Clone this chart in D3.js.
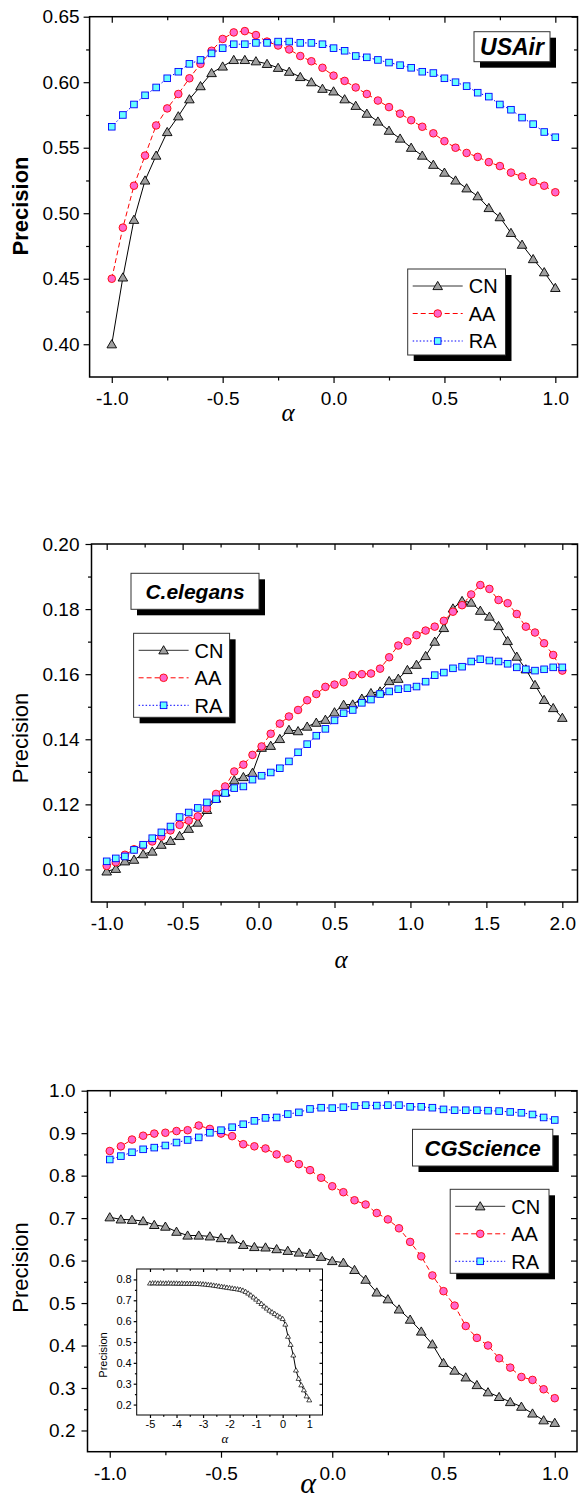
<!DOCTYPE html>
<html><head><meta charset="utf-8">
<script src="https://cdn.jsdelivr.net/npm/d3@7"></script>
<style>body{margin:0;background:#fff}svg{display:block}</style>
</head><body><svg id="c" width="580" height="1498"></svg>
<script>
// ---------------- DATA ----------------
const seriesNames = ["CN", "AA", "RA"];

// Panel 1: USAir
const alphaUSAir = [-1.00,-0.95,-0.90,-0.85,-0.80,-0.75,-0.70,-0.65,-0.60,-0.55,-0.50,-0.45,-0.40,-0.35,-0.30,-0.25,-0.20,-0.15,-0.10,-0.05,0.00,0.05,0.10,0.15,0.20,0.25,0.30,0.35,0.40,0.45,0.50,0.55,0.60,0.65,0.70,0.75,0.80,0.85,0.90,0.95,1.00];
const usairCN = [0.400,0.451,0.495,0.525,0.544,0.562,0.574,0.587,0.597,0.607,0.612,0.617,0.617,0.616,0.614,0.611,0.608,0.604,0.600,0.595,0.593,0.587,0.582,0.576,0.570,0.563,0.557,0.550,0.544,0.537,0.531,0.525,0.519,0.513,0.504,0.497,0.485,0.476,0.465,0.455,0.443];
const usairAA = [0.450,0.489,0.521,0.544,0.567,0.580,0.591,0.603,0.614,0.624,0.633,0.638,0.639,0.636,0.631,0.628,0.625,0.620,0.616,0.611,0.605,0.601,0.596,0.591,0.586,0.581,0.576,0.571,0.566,0.561,0.555,0.550,0.546,0.543,0.539,0.536,0.531,0.528,0.524,0.521,0.516];
const usairRA = [0.566,0.575,0.583,0.590,0.596,0.603,0.608,0.614,0.617,0.622,0.626,0.629,0.629,0.630,0.630,0.631,0.631,0.630,0.630,0.629,0.626,0.624,0.620,0.619,0.617,0.615,0.613,0.611,0.608,0.607,0.603,0.600,0.597,0.592,0.589,0.583,0.579,0.573,0.568,0.562,0.558];
const usairYTicks = [0.40,0.45,0.50,0.55,0.60,0.65];
const usairXTicks = [-1.0,-0.5,0.0,0.5,1.0];

// Panel 2: C.elegans
const alphaCeleg = [-1.00,-0.94,-0.88,-0.82,-0.76,-0.70,-0.64,-0.58,-0.52,-0.46,-0.40,-0.34,-0.28,-0.22,-0.16,-0.10,-0.04,0.02,0.08,0.14,0.20,0.26,0.32,0.38,0.44,0.50,0.56,0.62,0.68,0.74,0.80,0.86,0.92,0.98,1.04,1.10,1.16,1.22,1.28,1.34,1.40,1.46,1.52,1.58,1.64,1.70,1.76,1.82,1.88,1.94,2.00];
const celegCN = [0.0994,0.1002,0.1025,0.1030,0.1047,0.1055,0.1076,0.1088,0.1103,0.1125,0.1144,0.1183,0.1218,0.1237,0.1274,0.1284,0.1297,0.1374,0.1380,0.1401,0.1429,0.1425,0.1439,0.1451,0.1460,0.1483,0.1506,0.1507,0.1525,0.1542,0.1547,0.1579,0.1586,0.1613,0.1629,0.1656,0.1700,0.1742,0.1802,0.1825,0.1820,0.1795,0.1777,0.1748,0.1702,0.1654,0.1615,0.1567,0.1521,0.1496,0.1466];
const celegAA = [0.1011,0.1022,0.1045,0.1062,0.1073,0.1086,0.1101,0.1120,0.1137,0.1150,0.1163,0.1188,0.1232,0.1255,0.1301,0.1322,0.1352,0.1378,0.1417,0.1448,0.1470,0.1490,0.1520,0.1539,0.1561,0.1568,0.1575,0.1597,0.1600,0.1602,0.1617,0.1652,0.1688,0.1701,0.1720,0.1734,0.1746,0.1764,0.1792,0.1812,0.1845,0.1874,0.1862,0.1828,0.1818,0.1785,0.1746,0.1728,0.1695,0.1659,0.1611];
const celegRA = [0.1025,0.1034,0.1040,0.1060,0.1076,0.1096,0.1114,0.1132,0.1161,0.1175,0.1189,0.1206,0.1216,0.1235,0.1250,0.1255,0.1276,0.1288,0.1298,0.1311,0.1332,0.1360,0.1385,0.1411,0.1432,0.1458,0.1480,0.1490,0.1512,0.1522,0.1539,0.1547,0.1554,0.1557,0.1562,0.1577,0.1597,0.1605,0.1618,0.1623,0.1639,0.1646,0.1642,0.1639,0.1632,0.1621,0.1615,0.1611,0.1615,0.1621,0.1621];
const celegYTicks = [0.10,0.12,0.14,0.16,0.18,0.20];
const celegXTicks = [-1.0,-0.5,0.0,0.5,1.0,1.5,2.0];

// Panel 3: CGScience
const alphaCG = alphaUSAir;
const cgCN = [0.702,0.697,0.696,0.693,0.684,0.680,0.668,0.659,0.659,0.657,0.653,0.650,0.637,0.632,0.631,0.627,0.623,0.619,0.616,0.609,0.599,0.595,0.578,0.555,0.525,0.509,0.485,0.461,0.433,0.403,0.359,0.341,0.325,0.307,0.290,0.279,0.267,0.256,0.240,0.224,0.218];
const cgAA = [0.858,0.869,0.885,0.894,0.899,0.901,0.905,0.907,0.918,0.910,0.899,0.893,0.874,0.869,0.864,0.850,0.840,0.827,0.813,0.795,0.775,0.761,0.742,0.732,0.712,0.697,0.676,0.644,0.610,0.565,0.528,0.494,0.446,0.418,0.400,0.370,0.348,0.326,0.319,0.297,0.276];
const cgRA = [0.838,0.846,0.855,0.862,0.866,0.871,0.878,0.884,0.890,0.901,0.907,0.914,0.921,0.929,0.936,0.937,0.945,0.949,0.957,0.960,0.959,0.961,0.964,0.966,0.965,0.966,0.966,0.962,0.962,0.960,0.956,0.954,0.954,0.954,0.953,0.952,0.950,0.948,0.944,0.937,0.931];
const cgYTicks = [0.2,0.3,0.4,0.5,0.6,0.7,0.8,0.9,1.0];
const cgXTicks = [-1.0,-0.5,0.0,0.5,1.0];

// Inset: CN on CGScience for wide alpha range
const insetAlpha = [-5.0,-4.9,-4.8,-4.7,-4.6,-4.5,-4.4,-4.3,-4.2,-4.1,-4.0,-3.9,-3.8,-3.7,-3.6,-3.5,-3.4,-3.3,-3.2,-3.1,-3.0,-2.9,-2.8,-2.7,-2.6,-2.5,-2.4,-2.3,-2.2,-2.1,-2.0,-1.9,-1.8,-1.7,-1.6,-1.5,-1.4,-1.3,-1.2,-1.1,-1.0,-0.9,-0.8,-0.7,-0.6,-0.5,-0.4,-0.3,-0.2,-0.1,0.0,0.1,0.2,0.3,0.4,0.5,0.6,0.7,0.8,0.9,1.0];
const insetCN = [0.782,0.783,0.783,0.782,0.783,0.782,0.782,0.783,0.782,0.782,0.782,0.781,0.782,0.781,0.781,0.781,0.781,0.780,0.780,0.779,0.778,0.777,0.775,0.774,0.772,0.770,0.768,0.766,0.764,0.762,0.760,0.758,0.756,0.754,0.752,0.748,0.742,0.734,0.725,0.715,0.705,0.694,0.684,0.672,0.662,0.652,0.644,0.636,0.628,0.620,0.612,0.585,0.527,0.488,0.437,0.365,0.325,0.294,0.270,0.241,0.222];
const insetYTicks = [0.2,0.3,0.4,0.5,0.6,0.7,0.8];
const insetXTicks = [-5,-4,-3,-2,-1,0,1];

// ---------------- DRAWING ----------------
const svg = d3.select('#c');
const SANS = "'Liberation Sans', Arial, Helvetica, sans-serif";
const SERIF = "'Liberation Serif', 'Times New Roman', serif";

const styles = {
  CN: {line:'#000000', dash:null,   fill:'#a0a0a0', stroke:'#000000', shape:'tri',    legLine:'#333'},
  AA: {line:'#ff0000', dash:'5,3',  fill:'#ff66cc', stroke:'#ff0000', shape:'circle', legLine:'#ff0000'},
  RA: {line:'#0000ff', dash:'1.5,2',fill:'#66ffff', stroke:'#0000ff', shape:'square', legLine:'#0000ff'}
};

function drawMarker(sel, st, scale) {
  scale = scale || 1;
  if (st.shape === 'circle') {
    sel.append('circle').attr('r', 3.8*scale);
  } else if (st.shape === 'square') {
    sel.append('rect').attr('x', -3.3*scale).attr('y', -3.3*scale).attr('width', 6.6*scale).attr('height', 6.6*scale);
  } else {
    const a = 4.8*scale, t = 4.6*scale, b = 3.6*scale;
    sel.append('path').attr('d', `M0,${-t}L${a},${b}L${-a},${b}Z`);
  }
  sel.attr('fill', st.fill).attr('stroke', st.stroke).attr('stroke-width', 0.9);
}

function minorBetween(ticks, step, domain) {
  const out = [];
  ticks.forEach(t => {
    [t - step, t + step].forEach(m => {
      if (m > domain[0] + 1e-9 && m < domain[1] - 1e-9 && !out.some(o => Math.abs(o-m) < 1e-9)
          && !ticks.some(tt => Math.abs(tt-m) < 1e-9)) out.push(m);
    });
  });
  return out.sort((a,b)=>a-b);
}

function styleAxis(g, fontSize) {
  g.select('.domain').remove();
  g.selectAll('.tick line').attr('stroke', '#000').attr('stroke-width', 1.2);
  g.selectAll('text').attr('font-family', SANS).attr('font-size', fontSize).attr('fill', '#000');
}

function axes(g, x, y, o) {
  const fs = o.tickFont;
  const xm = minorBetween(o.xTicks, o.xMinorStep, x.domain());
  const ym = minorBetween(o.yTicks, o.yMinorStep, y.domain());
  const L = x.range()[0], R = x.range()[1], B = y.range()[0], T = y.range()[1];
  // bottom (outward, labelled)
  styleAxis(g.append('g').attr('transform', `translate(0,${B})`)
    .call(d3.axisBottom(x).tickValues(o.xTicks).tickSize(o.major).tickPadding(o.xPad).tickFormat(o.xFmt)), fs);
  styleAxis(g.append('g').attr('transform', `translate(0,${B})`)
    .call(d3.axisBottom(x).tickValues(xm).tickSize(o.minor).tickFormat('')), fs);
  // left (outward, labelled)
  styleAxis(g.append('g').attr('transform', `translate(${L},0)`)
    .call(d3.axisLeft(y).tickValues(o.yTicks).tickSize(o.major).tickPadding(o.yPad).tickFormat(o.yFmt)), fs);
  styleAxis(g.append('g').attr('transform', `translate(${L},0)`)
    .call(d3.axisLeft(y).tickValues(ym).tickSize(o.minor).tickFormat('')), fs);
  // top (inward)
  styleAxis(g.append('g').attr('transform', `translate(0,${T})`)
    .call(d3.axisTop(x).tickValues(o.xTicks).tickSize(-o.major).tickFormat('')), fs);
  styleAxis(g.append('g').attr('transform', `translate(0,${T})`)
    .call(d3.axisTop(x).tickValues(xm).tickSize(-o.minor).tickFormat('')), fs);
  // right (inward)
  styleAxis(g.append('g').attr('transform', `translate(${R},0)`)
    .call(d3.axisRight(y).tickValues(o.yTicks).tickSize(-o.major).tickFormat('')), fs);
  styleAxis(g.append('g').attr('transform', `translate(${R},0)`)
    .call(d3.axisRight(y).tickValues(ym).tickSize(-o.minor).tickFormat('')), fs);
  // frame
  g.append('rect').attr('x', L).attr('y', T).attr('width', R-L).attr('height', B-T)
    .attr('fill', 'none').attr('stroke', '#000').attr('stroke-width', o.frameW || 1.5);
}

function shadowBox(g, bx, by, bw, bh) {
  g.append('rect').attr('x', bx+6).attr('y', by+6).attr('width', bw).attr('height', bh).attr('fill', '#000');
  g.append('rect').attr('x', bx).attr('y', by).attr('width', bw).attr('height', bh)
    .attr('fill', '#fff').attr('stroke', '#333').attr('stroke-width', 1);
}

function drawPanel(o) {
  const g = svg.append('g');
  const x = d3.scaleLinear().domain(o.xd).range([o.L, o.R]);
  const y = d3.scaleLinear().domain(o.yd).range([o.B, o.T]);
  const line = d3.line().x(d => x(d[0])).y(d => y(d[1]));

  o.series.forEach((vals, si) => {
    const st = styles[seriesNames[si]];
    const pts = o.xs.map((v, i) => [v, vals[i]]);
    g.append('path').attr('d', line(pts)).attr('fill', 'none')
      .attr('stroke', st.line).attr('stroke-width', 1).attr('stroke-dasharray', st.dash);
    g.append('g').selectAll('g').data(pts).join('g')
      .attr('transform', d => `translate(${x(d[0])},${y(d[1])})`)
      .each(function() { drawMarker(d3.select(this), st); });
  });

  axes(g, x, y, {
    xTicks: o.xTicks, yTicks: o.yTicks, xMinorStep: o.xMinorStep, yMinorStep: o.yMinorStep,
    major: 6, minor: 3.5, xPad: 9, yPad: o.yPad, tickFont: 19,
    xFmt: d => d.toFixed(1), yFmt: d => d.toFixed(o.yDec)
  });

  // y label
  g.append('text').attr('transform', `translate(${o.ylab[0]},${o.ylab[1]}) rotate(-90)`)
    .attr('text-anchor', 'middle').attr('font-family', SANS).attr('font-size', 22)
    .attr('font-weight', o.ylabBold ? 'bold' : 'normal').text('Precision');
  // x label
  g.append('text').attr('x', o.xlab[0]).attr('y', o.xlab[1]).attr('text-anchor', 'middle')
    .attr('font-family', SERIF).attr('font-style', 'italic').attr('font-size', o.xlab[2]).text('α');

  // title box
  const tb = o.title;
  shadowBox(g, tb.x, tb.y, tb.w, tb.h);
  g.append('text').attr('x', tb.x + tb.w/2).attr('y', tb.y + tb.h/2 + tb.fs*0.36)
    .attr('text-anchor', 'middle').attr('font-family', SANS).attr('font-weight', 'bold')
    .attr('font-style', 'italic').attr('font-size', tb.fs).text(tb.text);

  // legend
  const lg = o.legend;
  shadowBox(g, lg.x, lg.y, lg.w, lg.h);
  seriesNames.forEach((nm, i) => {
    const st = styles[nm];
    const ry = lg.y + 17 + i * 27.5;
    g.append('line').attr('x1', lg.x + 5).attr('x2', lg.x + 55).attr('y1', ry).attr('y2', ry)
      .attr('stroke', st.legLine).attr('stroke-width', 1).attr('stroke-dasharray', st.dash);
    const m = g.append('g').attr('transform', `translate(${lg.x + 30},${ry})`);
    drawMarker(m, st);
    g.append('text').attr('x', lg.x + 61).attr('y', ry + 7.2).attr('font-family', SANS)
      .attr('font-size', 20).text(nm);
  });
  return {g, x, y};
}

// Panel 1
drawPanel({
  L: 89.6, R: 577.5, T: 16.7, B: 377, xd: [-1.1, 1.1], yd: [0.375, 0.65],
  xs: alphaUSAir, series: [usairCN, usairAA, usairRA],
  xTicks: usairXTicks, yTicks: usairYTicks, xMinorStep: 0.25, yMinorStep: 0.025, yDec: 2, yPad: 4,
  ylab: [27.5, 206], ylabBold: true, xlab: [288, 421, 25],
  title: {x: 474, y: 31.7, w: 76, h: 30, fs: 23, text: 'USAir'},
  legend: {x: 407.7, y: 269, w: 97.8, h: 86}
});

// Panel 2
drawPanel({
  L: 91.5, R: 577.5, T: 544, B: 902, xd: [-1.1, 2.1], yd: [0.09, 0.20],
  xs: alphaCeleg, series: [celegCN, celegAA, celegRA],
  xTicks: celegXTicks, yTicks: celegYTicks, xMinorStep: 0.25, yMinorStep: 0.01, yDec: 2, yPad: 6,
  ylab: [28, 738], ylabBold: false, xlab: [341, 968, 25],
  title: {x: 131, y: 573.3, w: 128, h: 36, fs: 21, text: 'C.elegans'},
  legend: {x: 133.6, y: 633.3, w: 96, h: 84}
});

// Panel 3
const p3 = drawPanel({
  L: 87.5, R: 577, T: 1090.7, B: 1451.7, xd: [-1.1, 1.1], yd: [0.15, 1.0],
  xs: alphaCG, series: [cgCN, cgAA, cgRA],
  xTicks: cgXTicks, yTicks: cgYTicks, xMinorStep: 0.25, yMinorStep: 0.05, yDec: 1, yPad: 6,
  ylab: [28, 1267.5], ylabBold: false, xlab: [308, 1493, 30],
  title: {x: 412.5, y: 1129.3, w: 140.3, h: 36.7, fs: 22, text: 'CGScience'},
  legend: {x: 450.2, y: 1189.3, w: 98.8, h: 84}
});

// Inset
(function() {
  const g = svg.append('g');
  const x = d3.scaleLinear().domain([-5.5, 1.5]).range([136.7, 322.5]);
  const y = d3.scaleLinear().domain([0.15, 0.85]).range([1415, 1269]);
  g.append('rect').attr('x', 136.7).attr('y', 1269).attr('width', 322.5-136.7).attr('height', 1415-1269).attr('fill', '#fff');
  const pts = insetAlpha.map((v, i) => [v, insetCN[i]]);
  g.append('path').attr('d', d3.line().x(d => x(d[0])).y(d => y(d[1]))(pts))
    .attr('fill', 'none').attr('stroke', '#000').attr('stroke-width', 1);
  g.append('g').selectAll('path').data(pts).join('path')
    .attr('transform', d => `translate(${x(d[0])},${y(d[1])})`)
    .attr('d', 'M0,-2.4L2.5,1.9L-2.5,1.9Z').attr('fill', '#fff').attr('stroke', '#000').attr('stroke-width', 0.7);
  axes(g, x, y, {
    xTicks: insetXTicks, yTicks: insetYTicks, xMinorStep: 0.5, yMinorStep: 0.05,
    major: 3, minor: 1.8, xPad: 2.5, yPad: 2, tickFont: 11, frameW: 1,
    xFmt: d => String(d), yFmt: d => d.toFixed(1)
  });
  g.append('text').attr('transform', 'translate(107,1355) rotate(-90)').attr('text-anchor', 'middle')
    .attr('font-family', SANS).attr('font-size', 11).text('Precision');
  g.append('text').attr('x', 225).attr('y', 1443).attr('text-anchor', 'middle')
    .attr('font-family', SERIF).attr('font-style', 'italic').attr('font-size', 13).text('α');
})();
</script>
</body></html>
